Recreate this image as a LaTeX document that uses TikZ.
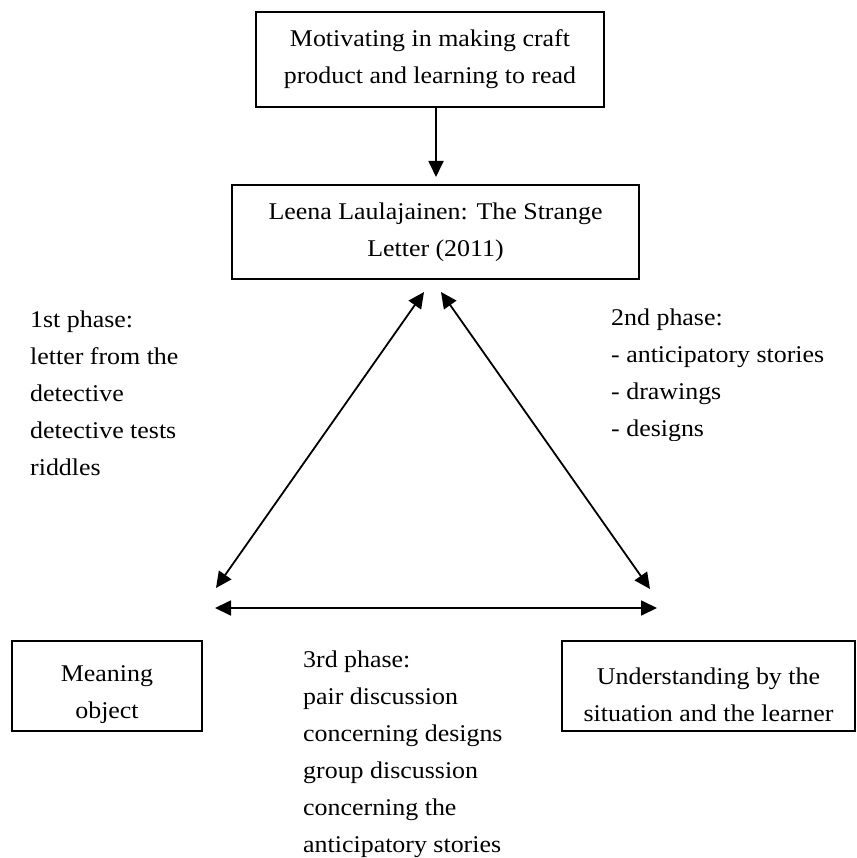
\documentclass[tikz,border=0pt]{standalone}
\usepackage{fontspec}
\setmainfont{Liberation Serif}[FakeStretch=1.08]
\usetikzlibrary{arrows.meta}
\newcommand{\lowerfirst}{\rule{0pt}{34pt}}
\begin{document}
\begin{tikzpicture}[x=1pt,y=-1pt,
  every node/.style={font=\fontsize{24}{37}\selectfont},
  box/.style={draw,line width=2.4pt,align=center,inner sep=0pt},
  phase/.style={align=left,anchor=base west,inner sep=0pt},
  link/.style={line width=1.8pt,-{Triangle[length=16pt,width=15pt]}},
  twoway/.style={line width=1.8pt,{Triangle[length=16pt,width=15pt]}-{Triangle[length=16pt,width=15pt]}}]
\useasboundingbox (0,0) rectangle (856,858);

% boxes
\node[box,minimum width=348pt,minimum height=95pt] (motiv) at (430,59.5)
  {Motivating in making craft\\product and learning to read};
\node[box,minimum width=407pt,minimum height=94pt] (book) at (435.5,232)
  {Leena Laulajainen: The Strange\\Letter (2011)};
\node[box,minimum width=190pt,minimum height=90pt] (meaning) at (107,686)
  {\lowerfirst Meaning\\object};
\node[box,minimum width=293pt,minimum height=90pt] (underst) at (708.5,686)
  {\lowerfirst Understanding by the\\situation and the learner};

% arrow ends of the triangle
\coordinate (apexL) at (424,292);
\coordinate (apexR) at (441,292);
\coordinate (baseL) at (216,588);
\coordinate (baseR) at (650,589);
\coordinate (horL) at (215,608);
\coordinate (horR) at (657,608);
\coordinate (downtail) at (436,107);
\coordinate (downtip) at (436,177);

% connectors
\draw[link] (downtail) -- (downtip);
\draw[twoway] (apexL) -- (baseL);
\draw[twoway] (apexR) -- (baseR);
\draw[twoway] (horL) -- (horR);

% phase texts (anchored at the baseline of the last line)
\node[phase] (p1) at (30,475)
  {1st phase:\\letter from the\\detective\\detective tests\\riddles};
\begin{scope}
  \clip (590,280) rectangle (856,440);
  \node[phase] (p2) at (611,436)
    {2nd phase:\\- anticipatory stories\\- drawings\\- designs};
\end{scope}
\node[phase] (p3) at (303,852)
  {3rd phase:\\pair discussion\\concerning designs\\group discussion\\concerning the\\anticipatory stories};
\end{tikzpicture}
\end{document}
